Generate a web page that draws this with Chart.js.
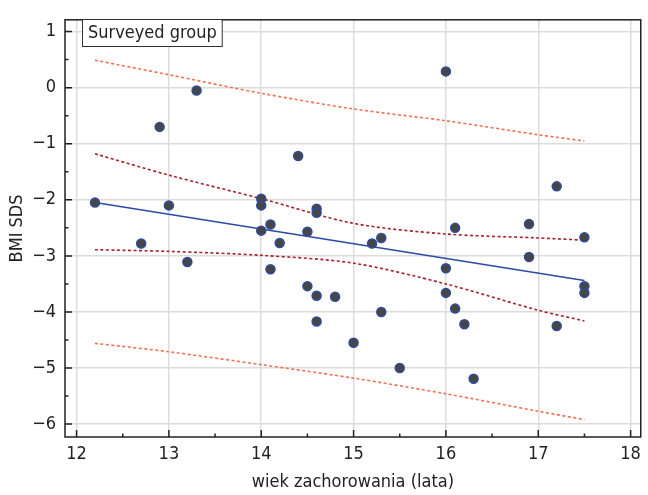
<!DOCTYPE html>
<html>
<head>
<meta charset="utf-8">
<script src="https://cdn.jsdelivr.net/npm/chart.js@4.4.1/dist/chart.umd.min.js"></script>
<style>
  html, body { margin: 0; padding: 0; background: #fff; }
  #wrap { width: 648px; height: 495px; }
</style>
</head>
<body>
<div id="wrap"><canvas id="bmi" width="648" height="495"></canvas></div>
<script>
// surveyed group: age at onset (years) vs BMI SDS
const ageValues = [12.2, 12.7, 12.9, 13.0, 13.2, 13.3, 14.0, 14.0, 14.0, 14.1, 14.1, 14.2, 14.4,
  14.5, 14.5, 14.6, 14.6, 14.6, 14.6, 14.8, 15.0, 15.2, 15.3, 15.3, 15.5, 16.0, 16.0, 16.0,
  16.1, 16.1, 16.2, 16.3, 16.9, 16.9, 17.2, 17.2, 17.5, 17.5, 17.5];
const bmiValues = [-2.05, -2.78, -0.70, -2.10, -3.11, -0.05, -1.98, -2.10, -2.55, -2.44, -3.24, -2.77, -1.22,
  -2.57, -3.54, -2.16, -2.23, -3.71, -4.17, -3.73, -4.55, -2.78, -2.68, -4.00, -5.00, 0.29, -3.22, -3.66,
  -2.50, -3.94, -4.22, -5.19, -2.43, -3.02, -1.76, -4.25, -2.67, -3.54, -3.66];

// regression line end points
const fitX = [12.2, 17.5];
const fitY = [-2.05, -3.44];

// confidence / prediction bands
const bandX = [12.2, 13, 14, 15, 16, 17, 17.5];
const confUpper = [-1.18, -1.56, -1.98, -2.42, -2.61, -2.68, -2.72];
const confLower = [-2.89, -2.92, -2.99, -3.13, -3.50, -3.97, -4.16];
const predUpper = [0.49, 0.23, -0.10, -0.38, -0.59, -0.84, -0.95];
const predLower = [-4.56, -4.71, -4.94, -5.18, -5.46, -5.77, -5.92];

const xTicks = [12, 13, 14, 15, 16, 17, 18];
const yTicks = [1, 0, -1, -2, -3, -4, -5, -6];
const legendLabel = 'Surveyed group';
const xTitle = 'wiek zachorowania (lata)';
const yTitle = 'BMI SDS';

const FONT = '"Liberation Sans Narrow", "DejaVu Sans Condensed", "Liberation Sans", sans-serif';

const pts = (xs, ys) => xs.map((x, i) => ({ x: x, y: ys[i] }));

// frame, inward ticks and the legend box
const framePlugin = {
  id: 'frame',
  afterDraw(chart) {
    const { ctx, chartArea: a, scales } = chart;
    ctx.save();
    ctx.strokeStyle = '#222';
    ctx.lineWidth = 1.5;
    ctx.strokeRect(a.left, a.top, a.right - a.left, a.bottom - a.top);

    ctx.lineWidth = 1.5;
    ctx.beginPath();
    for (let v = 12; v <= 18; v += 0.5) {
      const px = scales.x.getPixelForValue(v);
      const len = Number.isInteger(v) ? 7 : 3.5;
      ctx.moveTo(px, a.bottom);
      ctx.lineTo(px, a.bottom - len);
    }
    for (let v = -6; v <= 1; v += 0.5) {
      const py = scales.y.getPixelForValue(v);
      const len = Number.isInteger(v) ? 7 : 3.5;
      ctx.moveTo(a.left, py);
      ctx.lineTo(a.left + len, py);
    }
    ctx.stroke();

    // legend box
    ctx.font = '18px ' + FONT;
    const w = ctx.measureText(legendLabel).width;
    const bx = 82, by = 19, bh = 27;
    ctx.fillStyle = '#fff';
    ctx.fillRect(bx, by, w + 11, bh);
    ctx.strokeStyle = '#333';
    ctx.lineWidth = 1;
    ctx.strokeRect(bx + 0.5, by + 0.5, w + 11, bh);
    ctx.fillStyle = '#222';
    ctx.textBaseline = 'middle';
    ctx.fillText(legendLabel, bx + 6, by + bh / 2 + 1);
    ctx.restore();
  }
};

const bandStyle = (color, dash) => ({
  type: 'scatter',
  showLine: true,
  borderColor: color,
  borderWidth: 1.6,
  borderDash: dash,
  pointRadius: 0,
  fill: false,
  tension: 0.3
});

new Chart(document.getElementById('bmi'), {
  type: 'scatter',
  data: {
    datasets: [
      {
        label: 'group',
        data: pts(ageValues, bmiValues),
        backgroundColor: '#464646',
        borderColor: '#2d4c9e',
        borderWidth: 1.5,
        pointRadius: 4.5,
        order: 0
      },
      {
        label: 'fit',
        type: 'scatter',
        showLine: true,
        data: pts(fitX, fitY),
        borderColor: '#2d4aa6',
        borderWidth: 1.5,
        pointRadius: 0,
        order: 1
      },
      Object.assign(bandStyle('#a8202c', [3, 2.5]), { label: 'cu', data: pts(bandX, confUpper), order: 2 }),
      Object.assign(bandStyle('#a8202c', [3, 2.5]), { label: 'cl', data: pts(bandX, confLower), order: 2 }),
      Object.assign(bandStyle('#f2704f', [3, 2.5]), { label: 'pu', data: pts(bandX, predUpper), order: 3 }),
      Object.assign(bandStyle('#f2704f', [3, 2.5]), { label: 'pl', data: pts(bandX, predLower), order: 3 })
    ]
  },
  options: {
    responsive: false,
    animation: false,
    layout: { padding: { top: 13, right: 1, left: 0, bottom: 0 } },
    plugins: {
      legend: { display: false },
      tooltip: { enabled: false }
    },
    scales: {
      x: {
        type: 'linear',
        min: 11.875,
        max: 18.11,
        afterBuildTicks: (scale) => { scale.ticks = xTicks.map(v => ({ value: v })); },
        afterFit: (scale) => { scale.height = 58; },
        grid: { color: '#dcdcdc', lineWidth: 1.5, drawTicks: false },
        border: { display: false },
        ticks: {
          padding: 7,
          color: '#222',
          font: { family: FONT, size: 18 },
          maxRotation: 0
        },
        title: {
          display: true,
          text: xTitle,
          color: '#222',
          font: { family: FONT, size: 18 },
          padding: { top: 2, bottom: 2 }
        }
      },
      y: {
        type: 'linear',
        min: -6.23,
        max: 1.21,
        afterBuildTicks: (scale) => { scale.ticks = yTicks.map(v => ({ value: v })); },
        afterFit: (scale) => { scale.width = 65; },
        grid: { color: '#dcdcdc', lineWidth: 1.5, drawTicks: false },
        border: { display: false },
        ticks: {
          padding: 9,
          color: '#222',
          font: { family: FONT, size: 18 },
          callback: (v) => (v < 0 ? '\u2212' + Math.abs(v) : String(v))
        },
        title: {
          display: true,
          text: yTitle,
          color: '#222',
          font: { family: FONT, size: 18 },
          padding: { top: 7, bottom: 0 }
        }
      }
    }
  },
  plugins: [framePlugin]
});
</script>
</body>
</html>
